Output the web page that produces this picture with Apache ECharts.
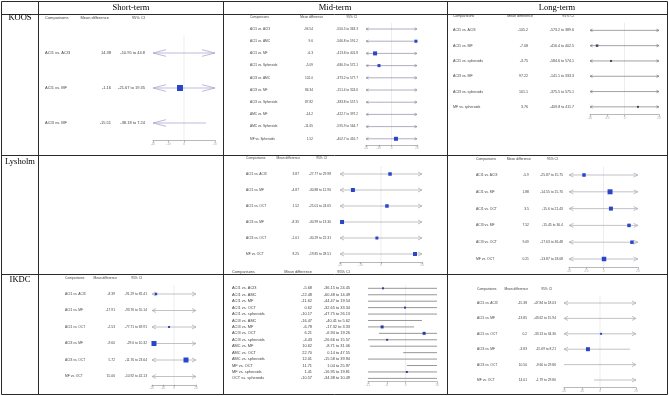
<!DOCTYPE html>
<html><head><meta charset="utf-8">
<script src="https://cdn.jsdelivr.net/npm/echarts@6/dist/echarts.min.js"></script>
<style>html,body{margin:0;padding:0;background:#fff}#c{width:669px;height:396px}</style>
</head><body><div id="c"></div>
<script>
// ---------- DATA (text columns as printed; plotted positions, in axis units) ----------
// null lo/hi = interval runs past the axis (drawn as arrow)
const koosShortComp = ['ACI1 vs. ACI3','ACI1 vs. MF','ACI3 vs. MF'];
const koosShortMD = ['14.38','-1.16','-15.51'];
const koosShortCI = ['-10.95 to 44.8','-21.67 to 19.35','-38.18 to 7.24'];
const koosShortEst = [null,-2.6,null];
const koosShortLo = [null,null,null];
const koosShortHi = [null,null,14.2];
const koosShortW = [0,6,0];

const koosMidComp = ['ACI1 vs. ACI3','ACI1 vs. AMC','ACI1 vs. MF','ACI1 vs. Spheroids','ACI3 vs. AMC','ACI3 vs. MF','ACI3 vs. Spheroids','AMC vs. MF','AMC vs. Spheroids','MF vs. Spheroids'];
const koosMidMD = ['-94.54','9.6','-6.3','-5.09','102.0','86.34','87.82','-14.2','-11.65','1.52'];
const koosMidCI = ['-550.5 to 363.3','-566.8 to 591.2','-413.8 to 401.8','-680.3 to 572.1','-373.2 to 577.7','-151.4 to 324.6','-383.8 to 557.5','-422.7 to 397.2','-595.9 to 564.7','-402.7 to 416.7'];
const koosMidEst = [null,19.2,-12.9,-9.8,null,null,null,null,null,3.5];
const koosMidLo = [null,null,null,null,null,null,null,null,null,null];
const koosMidHi = [null,null,null,null,null,null,null,null,null,null];
const koosMidW = [0,3,4,3,0,0,0,0,0,4];

const koosLongComp = ['ACI1 vs. ACI3','ACI1 vs. MF','ACI1 vs. spheroids','ACI3 vs. MF','ACI3 vs. spheroids','MF vs. spheroids'];
const koosLongMD = ['-105.2','-7.08','-3.75','97.22','101.1','3.76'];
const koosLongCI = ['-573.2 to 389.6','-416.4 to 402.5','-584.6 to 574.1','-141.1 to 333.3','-375.5 to 575.1','-409.8 to 411.7'];
const koosLongEst = [null,-15.9,-7.8,null,null,7.8];
const koosLongLo = [null,null,null,null,null,null];
const koosLongHi = [null,null,null,null,null,null];
const koosLongW = [0,2.5,2,0,0,2];

const lysMidComp = ['ACI1 vs. ACI3','ACI1 vs. MF','ACI1 vs. OCT','ACI3 vs. MF','ACI3 vs. OCT','MF vs. OCT'];
const lysMidMD = ['3.87','-4.87','1.52','-8.35','-1.01','8.25'];
const lysMidCI = ['-27.77 to 29.98','-30.88 to 12.90','-25.01 to 24.65','-30.99 to 13.30','-30.29 to 22.31','-19.85 to 28.51'];
const lysMidEst = [4.4,-13.7,2.9,-19.0,-2.0,16.6];
const lysMidLo = [null,null,null,null,null,null];
const lysMidHi = [null,null,null,null,null,null];
const lysMidW = [3.5,4,3.5,4,3,4];

const lysLongComp = ['ACI1 vs. ACI3','ACI1 vs. MF','ACI1 vs. OCT','ACI3 vs. MF','ACI3 vs. OCT','MF vs. OCT'];
const lysLongMD = ['-5.9','1.88','3.5','7.52','9.09','0.21'];
const lysLongCI = ['-25.87 to 15.75','-14.55 to 15.70','-15.6 to 21.43','-15.45 to 30.4','-17.63 to 36.48','-13.87 to 18.08'];
const lysLongEst = [-11.3,3.8,4.3,14.8,16.5,0.3];
const lysLongLo = [null,null,null,null,null,null];
const lysLongHi = [null,null,null,null,null,null];
const lysLongW = [3.5,5,4,3.5,3.5,4.5];

const ikdcShortComp = ['ACI1 vs. ACI3','ACI1 vs. MF','ACI1 vs. OCT','ACI3 vs. MF','ACI3 vs. OCT','MF vs. OCT'];
const ikdcShortMD = ['-8.39','-17.91','-2.53','-9.60','5.72','15.06'];
const ikdcShortCI = ['-91.29 to 82.41','-93.76 to 55.14','-77.71 to 69.91','-29.6 to 10.32','-11.76 to 23.64','-10.92 to 42.13'];
const ikdcShortEst = [-16.4,null,-4.5,-18.2,10.9,null];
const ikdcShortLo = [null,null,null,-20,null,null];
const ikdcShortHi = [null,null,null,null,null,null];
const ikdcShortW = [2.5,0,2,5,5,0];

const ikdcMidComp = ['ACI1 vs. ACI3','ACI1 vs. AMC','ACI1 vs. MF','ACI1 vs. OCT','ACI1 vs. spheroids','ACI3 vs. AMC','ACI3 vs. MF','ACI3 vs. OCT','ACI3 vs. spheroids','AMC vs. MF','AMC vs. OCT','AMC vs. spheroids','MF vs. OCT','MF vs. spheroids','OCT vs. spheroids'];
const ikdcMidMD = ['-5.68','-22.48','-11.62','0.62','-10.17','-16.47','-6.78','6.21','-4.43','10.62','22.70','12.01','11.71','1.41','-10.57'];
const ikdcMidCI = ['-36.15 to 24.45','-60.48 to 14.49','-44.47 to 19.54','-32.65 to 33.34','-47.75 to 26.13','-40.41 to 5.62','-17.32 to 3.33','-6.94 to 19.26','-26.66 to 15.57','-8.71 to 31.06','0.14 to 47.55','-15.58 to 39.94','1.04 to 25.97','-16.95 to 19.81','-34.38 to 10.49'];
const ikdcMidEst = [-7.2,null,null,-0.2,null,null,-7.5,5.9,-5.9,null,null,null,null,0.4,null];
const ikdcMidLo = [-12,-12,-12,-12,-12,-12,-12,-8.5,-12,-11.4,-0.8,-12,0.4,-12,-12];
const ikdcMidHi = [10,10,10,10,10,5.2,2.7,10,10,10,10,10,10,10,10];
const ikdcMidW = [2,0,0,2,0,0,3,3,2,0,0,0,0,2,0];

const ikdcLongComp = ['ACI1 vs. ACI3','ACI1 vs. MF','ACI1 vs. OCT','ACI3 vs. MF','ACI3 vs. OCT','MF vs. OCT'];
const ikdcLongMD = ['-15.38','-13.85','0.2','-3.83','10.50','14.01'];
const ikdcLongCI = ['-47.84 to 18.03','-43.62 to 15.94','-33.13 to 34.36','-15.69 to 8.21','-9.66 to 29.86','-1.79 to 29.80'];
const ikdcLongEst = [null,null,0.6,-6.7,null,null];
const ikdcLongLo = [null,null,null,null,-20,-3.3];
const ikdcLongHi = [null,null,null,16.7,null,null];
const ikdcLongW = [0,0,2,4,0,0];

const stdTicks = [-20,-10,0,20];
const ikdcMidTicks = [-12,-6,0,10];

const colTitles = ['Short-term','Mid-term','Long-term'];
const rowTitles = ['KOOS','Lysholm','IKDC'];
const headers = ['Comparisons','Mean difference','95% CI'];

// ---------- LAYOUT ----------
const panels = [
 {comp:koosShortComp, md:koosShortMD, ci:koosShortCI, est:koosShortEst, lo:koosShortLo, hi:koosShortHi, w:koosShortW,
  L:{fs:4, lx:45, mx:111, cx:145, hy:18, mdh:109, cih:145, left:153, right:215, top:35.5, height:105, min:-20, max:20, ticks:stdTicks, arrows:true, aL:13, aH:3.3, line:'#a9a9cf', lw:0.8, sq:'#2b45c9'}},
 {comp:koosMidComp, md:koosMidMD, ci:koosMidCI, est:koosMidEst, lo:koosMidLo, hi:koosMidHi, w:koosMidW,
  L:{fs:3.2, lx:250, mx:313, cx:358, hy:17, mdh:323, cih:357, left:366, right:417, top:22.9, height:122, min:-20, max:20, ticks:stdTicks, arrows:true, aL:2.5, aH:1.2, line:'#8c8ca4', lw:0.7, sq:'#2b45c9'}},
 {comp:koosLongComp, md:koosLongMD, ci:koosLongCI, est:koosLongEst, lo:koosLongLo, hi:koosLongHi, w:koosLongW,
  L:{fs:3.6, lx:453, mx:528, cx:574, hy:16, mdh:533, cih:574, left:590, right:659, top:22.7, height:91.8, min:-20, max:20, ticks:stdTicks, arrows:true, aL:2.5, aH:1.2, line:'#7a7a7a', lw:0.7, sq:'#45455f'}},
 {comp:lysMidComp, md:lysMidMD, ci:lysMidCI, est:lysMidEst, lo:lysMidLo, hi:lysMidHi, w:lysMidW,
  L:{fs:3.3, lx:246, mx:299, cx:331, hy:158, mdh:300, cih:327, left:340, right:422, top:166, height:96, min:-20, max:20, ticks:stdTicks, arrows:true, aL:4, aH:2, line:'#b2b2b8', lw:0.8, sq:'#2b45c9'}},
 {comp:lysLongComp, md:lysLongMD, ci:lysLongCI, est:lysLongEst, lo:lysLongLo, hi:lysLongHi, w:lysLongW,
  L:{fs:3.4, lx:476, mx:529, cx:563, hy:159, mdh:531, cih:558, left:569, right:638, top:166.6, height:100.8, min:-20, max:20, ticks:stdTicks, arrows:true, aL:4.5, aH:2, line:'#b2b2bc', lw:0.8, sq:'#2b45c9'}},
 {comp:ikdcShortComp, md:ikdcShortMD, ci:ikdcShortCI, est:ikdcShortEst, lo:ikdcShortLo, hi:ikdcShortHi, w:ikdcShortW,
  L:{fs:3.3, lx:65, mx:115, cx:147, hy:278, mdh:117, cih:142, left:152, right:196, top:285.75, height:99, min:-20, max:20, ticks:stdTicks, arrows:true, aL:4, aH:2, line:'#b2b2b8', lw:0.8, sq:'#2b45c9'}},
 {comp:ikdcMidComp, md:ikdcMidMD, ci:ikdcMidCI, est:ikdcMidEst, lo:ikdcMidLo, hi:ikdcMidHi, w:ikdcMidW,
  L:{fs:3.9, lx:232, mx:312, cx:350, hy:272, mdh:312, cih:350, left:368, right:437, top:285.1, height:96.5, min:-12, max:10, ticks:ikdcMidTicks, arrows:false, aL:0, aH:0, line:'#6a6a6a', lw:0.7, sq:'#2c3f9a'}},
 {comp:ikdcLongComp, md:ikdcLongMD, ci:ikdcLongCI, est:ikdcLongEst, lo:ikdcLongLo, hi:ikdcLongHi, w:ikdcLongW,
  L:{fs:3.3, lx:477, mx:527, cx:556, hy:289, mdh:528, cih:552, left:564, right:636, top:295.3, height:92.4, min:-20, max:20, ticks:stdTicks, arrows:true, aL:4, aH:2, line:'#b2b2b8', lw:0.8, sq:'#2b45c9'}}
];

const SANS = 'Liberation Sans, Arial, sans-serif';
const SERIF = 'Liberation Serif, Times New Roman, serif';

function mkText(t, x, y, fs, align, fam, fill){
  return {type:'text', x:x, y:y, silent:true,
    style:{text:t, x:0, y:0, fontSize:fs, fontFamily:fam, fill:fill,
      align:align, textAlign:align, verticalAlign:'middle', textVerticalAlign:'middle'}};
}

function makeRender(p){
  const L = p.L;
  return function(params, api){
    const i = params.dataIndex;
    const cs = params.coordSys;
    const pMin = api.coord([L.min, i]);
    const y = pMin[1];
    const x0 = pMin[0], x1 = api.coord([L.max, i])[0];
    const ch = [];
    if (i === 0){
      const xr = api.coord([0, i])[0];
      ch.push({type:'line', silent:true, shape:{x1:xr, y1:cs.y, x2:xr, y2:cs.y+cs.height}, style:{stroke:'#e0e0e6', lineWidth:0.6}});
    }
    ch.push(mkText(p.comp[i], L.lx, y, L.fs, 'left', SANS, '#444'));
    ch.push(mkText(p.md[i], L.mx, y, L.fs, 'right', SANS, '#444'));
    ch.push(mkText(p.ci[i], L.cx, y, L.fs, 'right', SANS, '#444'));
    const lo = p.lo[i], hi = p.hi[i];
    const xa = lo == null ? x0 : api.coord([lo, i])[0];
    const xb = hi == null ? x1 : api.coord([hi, i])[0];
    ch.push({type:'line', silent:true, shape:{x1:xa, y1:y, x2:xb, y2:y}, style:{stroke:L.line, lineWidth:L.lw}});
    if (L.arrows && lo == null){
      ch.push({type:'polyline', silent:true, shape:{points:[[x0+L.aL, y-L.aH],[x0, y],[x0+L.aL, y+L.aH]]}, style:{stroke:L.line, fill:null, lineWidth:L.lw}});
    }
    if (L.arrows && hi == null){
      ch.push({type:'polyline', silent:true, shape:{points:[[x1-L.aL, y-L.aH],[x1, y],[x1-L.aL, y+L.aH]]}, style:{stroke:L.line, fill:null, lineWidth:L.lw}});
    }
    if (p.est[i] != null && p.w[i] > 0){
      const xe = api.coord([p.est[i], i])[0];
      const s = p.w[i];
      ch.push({type:'rect', silent:true, shape:{x:xe-s/2, y:y-s/2, width:s, height:s}, style:{fill:L.sq}});
    }
    return {type:'group', children:ch};
  };
}

const grids = [], xAxes = [], yAxes = [], series = [], graphics = [];
panels.forEach((p, k) => {
  const L = p.L;
  grids.push({left:L.left, top:L.top, width:L.right-L.left, height:L.height, containLabel:false});
  xAxes.push({type:'value', gridIndex:k, min:L.min, max:L.max, splitLine:{show:false},
    axisLine:{show:true, lineStyle:{color:'#888', width:0.6}},
    axisTick:{show:true, length:2, customValues:L.ticks, lineStyle:{color:'#888', width:0.6}},
    axisLabel:{show:true, customValues:L.ticks, fontSize:3, color:'#aaa', margin:2, fontFamily:SANS}});
  yAxes.push({type:'category', gridIndex:k, data:p.comp, inverse:true, show:false});
  series.push({type:'custom', xAxisIndex:k, yAxisIndex:k, clip:false, silent:true,
    data:p.comp.map((c, i) => [0, i]), renderItem:makeRender(p)});
  graphics.push(mkText(headers[0], L.lx, L.hy, L.fs, 'left', SANS, '#444'));
  graphics.push(mkText(headers[1], L.mdh, L.hy, L.fs, 'right', SANS, '#444'));
  graphics.push(mkText(headers[2], L.cih, L.hy, L.fs, 'right', SANS, '#444'));
});

// table frame
const hLines = [1.5, 14.5, 155.5, 274.5, 394.5];
const vLines = [1.5, 38.5, 223.5, 447.5, 667.5];
hLines.forEach(y => graphics.push({type:'line', silent:true, shape:{x1:1.5, y1:y, x2:667.5, y2:y}, style:{stroke:'#2a2a2a', lineWidth:1}}));
vLines.forEach(x => graphics.push({type:'line', silent:true, shape:{x1:x, y1:1.5, x2:x, y2:394.5}, style:{stroke:'#2a2a2a', lineWidth:1}}));
const colCenters = [131, 335, 557];
colTitles.forEach((t, k) => graphics.push(mkText(t, colCenters[k], 8, 8.5, 'center', SERIF, '#000')));
const rowYs = [18, 162, 280];
rowTitles.forEach((t, k) => graphics.push(mkText(t, 20, rowYs[k], 8.5, 'center', SERIF, '#000')));

const chart = echarts.init(document.getElementById('c'), null, {renderer:'canvas', width:669, height:396});
chart.setOption({
  animation:false,
  backgroundColor:'#fff',
  grid:grids, xAxis:xAxes, yAxis:yAxes, series:series,
  graphic:{elements:graphics}
});
</script>
</body></html>
